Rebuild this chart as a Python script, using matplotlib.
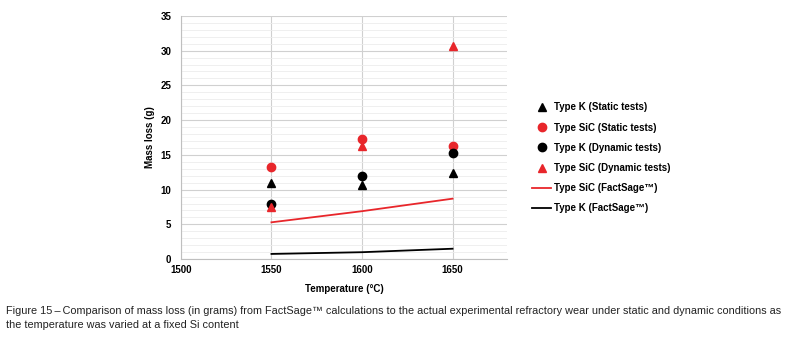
import matplotlib
matplotlib.use('agg')
import matplotlib.pyplot as plt
import numpy as np

# values
temps = [1550, 1600, 1650]
k_static = [10.9, 10.6, 12.4]
sic_static = [13.2, 17.3, 16.3]
k_dynamic = [7.9, 11.9, 15.2]
sic_dynamic = [7.5, 16.3, 30.7]
sic_factsage = [5.3, 6.9, 8.7]
k_factsage = [0.75, 1.0, 1.5]

plt.rcParams['font.family'] = ['Liberation Sans', 'DejaVu Sans']

fig = plt.figure(figsize=(7.97, 3.37), dpi=100)
ax = fig.add_axes([0.227, 0.231, 0.409, 0.722])

red = '#e8262b'
ax.plot(temps, k_static, '^', color='black', ms=5.5, label='Type K (Static tests)', zorder=3)
ax.plot(temps, sic_static, 'o', color=red, ms=6, label='Type SiC (Static tests)', zorder=3)
ax.plot(temps, k_dynamic, 'o', color='black', ms=6, label='Type K (Dynamic tests)', zorder=3)
ax.plot(temps, sic_dynamic, '^', color=red, ms=5.5, label='Type SiC (Dynamic tests)', zorder=3)
ax.plot(temps, sic_factsage, '-', color=red, lw=1.3, label='Type SiC (FactSage\u2122)')
ax.plot(temps, k_factsage, '-', color='black', lw=1.3, label='Type K (FactSage\u2122)')

ax.set_xlim(1500, 1680)
ax.set_ylim(0, 35)
ax.set_xticks([1500, 1550, 1600, 1650])
ax.set_yticks(range(0, 36, 5))
ax.set_yticks(np.arange(0, 35, 1), minor=True)
ax.tick_params(axis='both', which='both', length=0, labelsize=7, pad=4)
ax.tick_params(axis='y', pad=7)
for lab in ax.get_xticklabels() + ax.get_yticklabels():
    lab.set_fontweight('bold')
ax.grid(axis='y', which='major', color='#d0d0d0', lw=0.8)
ax.grid(axis='y', which='minor', color='#ececec', lw=0.6)
ax.grid(axis='x', which='major', color='#d0d0d0', lw=0.8)
for s in ['top', 'right']:
    ax.spines[s].set_visible(False)
ax.spines['left'].set_color('#bfbfbf')
ax.spines['bottom'].set_color('#bfbfbf')

ax.set_ylabel('Mass loss (g)', fontsize=7, fontweight='bold', labelpad=4)
ax.set_xlabel('Temperature (\u00b0C)', fontsize=7, fontweight='bold', labelpad=7)

leg = ax.legend(loc='upper left', bbox_to_anchor=(1.05, 0.68), frameon=False,
                handlelength=2.0, handletextpad=0.3, labelspacing=1.05,
                prop={'weight': 'bold', 'size': 7})

fig.text(0.008, 0.068, 'Figure 15\u2009\u2013\u2009Comparison of mass loss (in grams) from FactSage\u2122 calculations to the actual experimental refractory wear under static and dynamic conditions as',
         fontsize=7.8, color='#222222')
fig.text(0.008, 0.026, 'the temperature was varied at a fixed Si content',
         fontsize=7.8, color='#222222')

fig.savefig('out.png', dpi=100)
